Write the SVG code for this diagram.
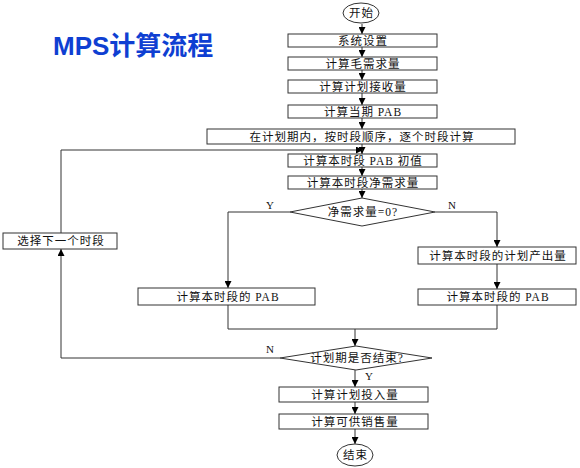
<svg xmlns="http://www.w3.org/2000/svg" width="580" height="468" viewBox="0 0 580 468">
<defs>
<marker id="ah" viewBox="0 0 10 10" refX="10" refY="5" markerWidth="7" markerHeight="7" markerUnits="userSpaceOnUse" orient="auto"><path d="M0,0 L10,5 L0,10 Z" fill="#000"/></marker>
<style>
.b{fill:#fff;stroke:#333;stroke-width:1}
.t{font-family:"Liberation Serif","Noto Sans CJK SC",serif;font-size:11.5px;letter-spacing:1px;fill:#111;text-anchor:middle;dominant-baseline:central}
.l{font-family:"Liberation Serif",serif;font-size:11px;fill:#111;text-anchor:middle}
.c{fill:none;stroke:#333;stroke-width:1}
.a{fill:none;stroke:#333;stroke-width:1;marker-end:url(#ah)}
</style>
</defs>
<rect width="580" height="468" fill="#fff"/>
<text x="53" y="55" font-family="Liberation Sans,'Noto Sans CJK SC',sans-serif" font-weight="bold" font-size="26" fill="#0f3fd2">MPS计算流程</text>
<g id="connectors">
<path class="a" d="M362,24 V34"/>
<path class="a" d="M362,47 V57"/>
<path class="a" d="M362,70 V80"/>
<path class="a" d="M362,93 V105"/>
<path class="a" d="M362,118 V129"/>
<path class="a" d="M362,144 V154"/>
<path class="a" d="M362,167 V176"/>
<path class="a" d="M362,189 V198"/>
<path class="a" d="M290,212 H228 V288"/>
<path class="a" d="M435,212 H497 V247"/>
<path class="a" d="M497,264 V289"/>
<path class="c" d="M228,305 V329 H497 V305"/>
<path class="a" d="M355,329 V346"/>
<path class="a" d="M280,358 H61 V249"/>
<path class="a" d="M61,233 V150 H363"/>
<path class="a" d="M355,370 V387"/>
<path class="a" d="M355,402 V414"/>
<path class="a" d="M355,429 V444"/>
<text class="l" x="270" y="209">Y</text>
<text class="l" x="452" y="209">N</text>
<text class="l" x="270" y="353">N</text>
<text class="l" x="369" y="380">Y</text>
</g>
<g id="start"><ellipse class="b" cx="361" cy="13" rx="18" ry="10"/><text class="t" x="361.5" y="13">开始</text></g>
<g id="n1"><rect class="b" x="288" y="34" width="149" height="13"/><text class="t" x="363" y="40.5">系统设置</text></g>
<g id="n2"><rect class="b" x="288" y="57" width="149" height="13"/><text class="t" x="363" y="63.5">计算毛需求量</text></g>
<g id="n3"><rect class="b" x="288" y="80" width="149" height="13"/><text class="t" x="363" y="86.5">计算计划接收量</text></g>
<g id="n4"><rect class="b" x="288" y="105" width="149" height="13"/><text class="t" x="363" y="111.5">计算当期 PAB</text></g>
<g id="n5"><rect class="b" x="207" y="129" width="308" height="15"/><text class="t" x="362" y="136.5">在计划期内，按时段顺序，逐个时段计算</text></g>
<g id="n6"><rect class="b" x="288" y="154" width="149" height="13"/><text class="t" x="363" y="160.5">计算本时段 PAB 初值</text></g>
<g id="n7"><rect class="b" x="288" y="176" width="149" height="13"/><text class="t" x="363" y="182.5">计算本时段净需求量</text></g>
<g id="d1"><polygon class="b" points="362,198 435,212 362,226 290,212"/><text class="t" x="363" y="212">净需求量=0?</text></g>
<g id="n8"><rect class="b" x="418" y="247" width="158" height="17"/><text class="t" x="498" y="255.5">计算本时段的计划产出量</text></g>
<g id="n9"><rect class="b" x="138" y="288" width="177" height="17"/><text class="t" x="228" y="296.5">计算本时段的 PAB</text></g>
<g id="n10"><rect class="b" x="418" y="289" width="158" height="16"/><text class="t" x="498" y="297">计算本时段的 PAB</text></g>
<g id="n11"><rect class="b" x="3" y="233" width="114" height="16"/><text class="t" x="61" y="241">选择下一个时段</text></g>
<g id="d2"><polygon class="b" points="356,346 432,358 356,370 280,358"/><text class="t" x="357" y="358">计划期是否结束?</text></g>
<g id="n12"><rect class="b" x="279" y="387" width="149" height="15"/><text class="t" x="355" y="394.5">计算计划投入量</text></g>
<g id="n13"><rect class="b" x="279" y="414" width="149" height="15"/><text class="t" x="355" y="421.5">计算可供销售量</text></g>
<g id="end"><ellipse class="b" cx="355" cy="455" rx="18" ry="11"/><text class="t" x="355.5" y="455">结束</text></g>
</svg>
